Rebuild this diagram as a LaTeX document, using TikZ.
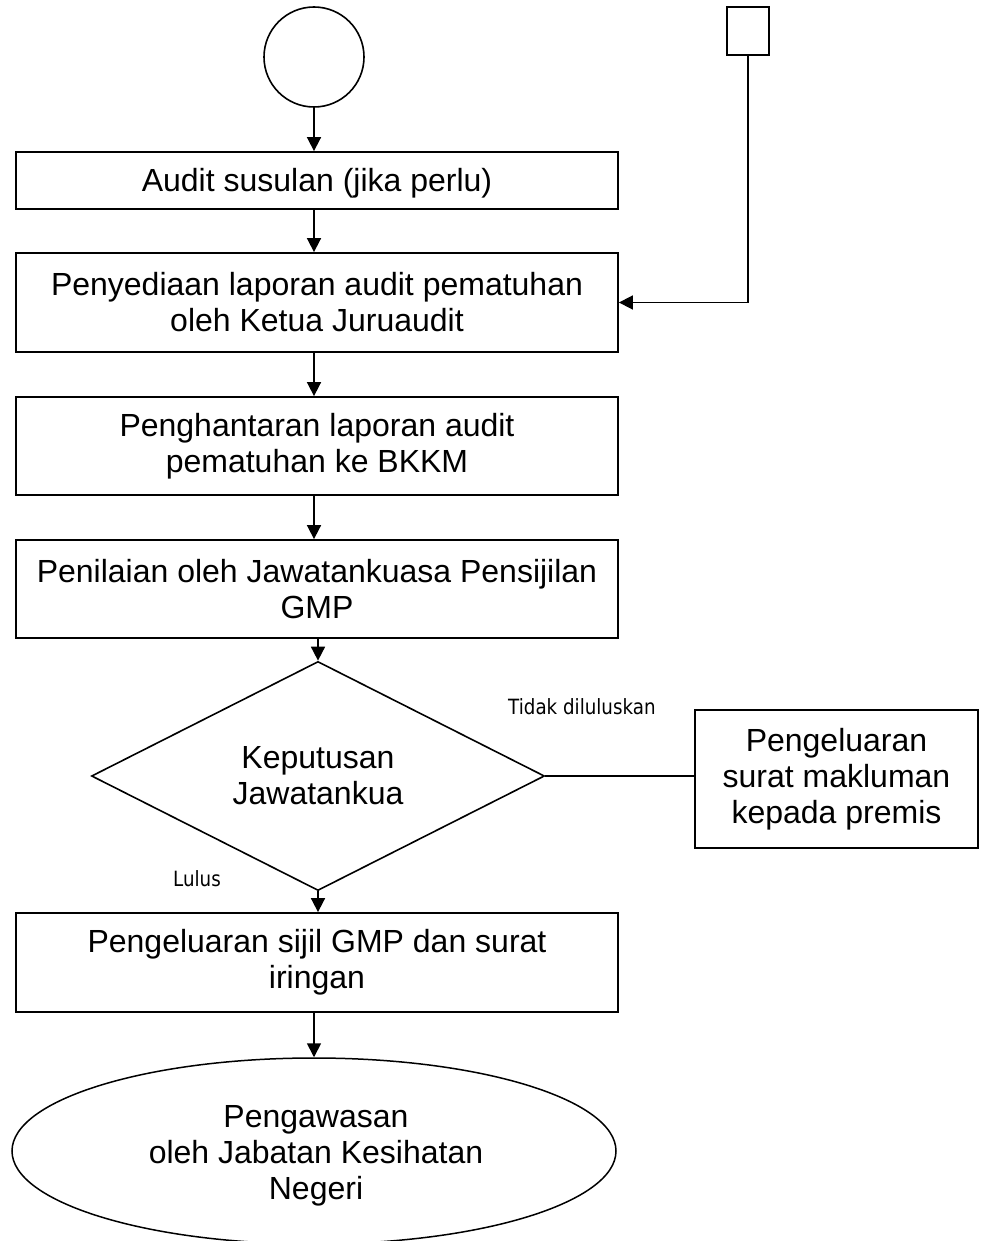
\documentclass[tikz,border=0pt]{standalone}
\usepackage{fontspec}
\setmainfont{Liberation Sans}
\newfontfamily\lblfont[FakeStretch=0.87]{DejaVu Sans}
\usetikzlibrary{shapes.geometric,arrows.meta}
\begin{document}
\begin{tikzpicture}[x=1pt,y=-1pt,
  every node/.style={font=\fontsize{32}{36}\selectfont, align=center, inner sep=0pt},
  box/.style={draw, line width=1.8pt, rectangle, minimum width=602pt},
  conn/.style={line width=1.7pt},
  arr/.style={conn, -{Triangle[length=14pt,width=14pt]}},
  lbl/.style={font=\lblfont\fontsize{21}{24}\selectfont, anchor=base west}]
\useasboundingbox (0,0) rectangle (980,1241);
\fill[white] (0,0) rectangle (980,1241);

\node[draw, line width=1.6pt, circle, minimum size=100pt] (circ) at (314,57) {};
\node[draw, line width=1.8pt, rectangle, minimum width=42pt, minimum height=48pt] (sq) at (748,31) {};

\node[box, minimum height=57pt, text height=23pt, text depth=0pt] (b1) at (317,180.5) {Audit susulan (jika perlu)};
\node[box, minimum height=99pt] (b2) at (317,302.5) {Penyediaan laporan audit pematuhan\\oleh Ketua Juruaudit};
\node[box, minimum height=98pt] (b3) at (317,446) {Penghantaran laporan audit\\pematuhan ke BKKM};
\node[box, minimum height=98pt] (b4) at (317,589) {Penilaian oleh Jawatankuasa Pensijilan\\GMP};
\node[draw, line width=1.6pt, diamond, minimum width=453pt, minimum height=186pt] (dia) at (318,776) {Keputusan\\Jawatankua};
\node[draw, line width=1.8pt, rectangle, minimum width=283pt, minimum height=138pt] (rb) at (836.5,779) {Pengeluaran\\surat makluman\\kepada premis};
\node[box, minimum height=99pt] (b5) at (317,962.5) {Pengeluaran sijil GMP dan surat\\iringan};
\node[draw, line width=1.5pt, ellipse, minimum width=604pt, minimum height=186pt] (ell) at (314,1151) {};
\node (ellt) at (316,1156) {Pengawasan\\oleh Jabatan Kesihatan\\Negeri};

\node[lbl] (tdl) at (508,714) {Tidak diluluskan};
\node[lbl] (lls) at (173,886) {Lulus};

\draw[arr] (circ.south) -- (circ.south |- b1.north);
\draw[arr] (circ.south |- b1.south) -- (circ.south |- b2.north);
\draw[arr] (circ.south |- b2.south) -- (circ.south |- b3.north);
\draw[arr] (circ.south |- b3.south) -- (circ.south |- b4.north);
\draw[arr] (dia.north |- b4.south) -- (dia.north);
\draw[arr] (dia.south) -- (dia.south |- b5.north);
\draw[arr] (ell.north |- b5.south) -- (ell.north);
\draw[arr] (sq.south) |- (b2.east);
\draw[conn] (dia.east) -- (dia.east -| rb.west);
\end{tikzpicture}
\end{document}
